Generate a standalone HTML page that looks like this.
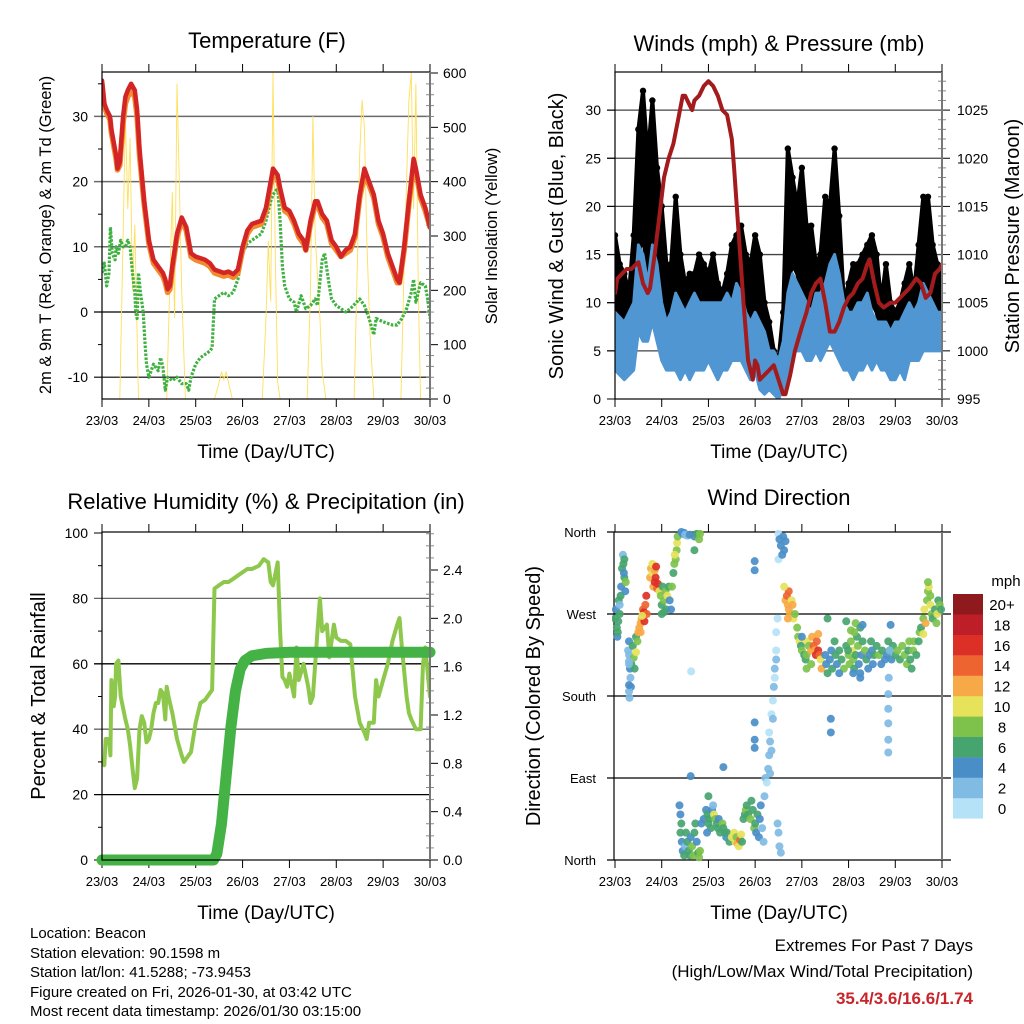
<!DOCTYPE html>
<html><head><meta charset="utf-8"><style>
html,body{margin:0;padding:0;background:#fff}
svg{display:block;font-family:"Liberation Sans",Arial,sans-serif}
</style></head><body>
<svg id="fig" width="1024" height="1024" viewBox="0 0 1024 1024" xmlns="http://www.w3.org/2000/svg">
<defs>
<clipPath id="c1"><rect x="102" y="72" width="328" height="327"/></clipPath>
<clipPath id="c2"><rect x="615" y="72" width="327" height="327"/></clipPath>
<clipPath id="c3"><rect x="102" y="532" width="328" height="328"/></clipPath>
<clipPath id="c4"><rect x="612" y="528" width="334" height="336"/></clipPath>
</defs>
<text x="267" y="48" font-size="22" text-anchor="middle">Temperature (F)</text>
<text x="779" y="51" font-size="22" text-anchor="middle">Winds (mph) &amp; Pressure (mb)</text>
<text x="266" y="509" font-size="22" text-anchor="middle">Relative Humidity (%) &amp; Precipitation (in)</text>
<text x="779" y="505" font-size="22" text-anchor="middle">Wind Direction</text>
<text transform="translate(51,235) rotate(-90)" font-size="16.5" text-anchor="middle">2m &amp; 9m T (Red, Orange) &amp; 2m Td (Green)</text>
<text transform="translate(497,236) rotate(-90)" font-size="16.5" text-anchor="middle">Solar Insolation (Yellow)</text>
<text transform="translate(563,236) rotate(-90)" font-size="20" text-anchor="middle">Sonic Wind &amp; Gust (Blue, Black)</text>
<text transform="translate(1019,236) rotate(-90)" font-size="20" text-anchor="middle">Station Pressure (Maroon)</text>
<text transform="translate(45,696) rotate(-90)" font-size="20" text-anchor="middle">Percent &amp; Total Rainfall</text>
<text transform="translate(540,696) rotate(-90)" font-size="20" text-anchor="middle">Direction (Colored By Speed)</text>
<text x="266" y="458" font-size="19" text-anchor="middle">Time (Day/UTC)</text>
<text x="779" y="458" font-size="19" text-anchor="middle">Time (Day/UTC)</text>
<text x="266" y="919" font-size="19" text-anchor="middle">Time (Day/UTC)</text>
<text x="779" y="919" font-size="19" text-anchor="middle">Time (Day/UTC)</text>
<g font-size="15">
<text x="30" y="938">Location: Beacon</text>
<text x="30" y="958">Station elevation: 90.1598 m</text>
<text x="30" y="977">Station lat/lon: 41.5288; -73.9453</text>
<text x="30" y="997">Figure created on Fri, 2026-01-30, at 03:42 UTC</text>
<text x="30" y="1016">Most recent data timestamp: 2026/01/30 03:15:00</text>
</g>
<g font-size="17" text-anchor="end">
<text x="973" y="951">Extremes For Past 7 Days</text>
<text x="973" y="977">(High/Low/Max Wind/Total Precipitation)</text>
<text x="973" y="1004" fill="#c8252b" font-weight="bold">35.4/3.6/16.6/1.74</text>
</g>
<g id="layer"></g>
</svg>
<script>
// ---------- data ----------
const dayLabels=["23/03","24/03","25/03","26/03","27/03","28/03","29/03","30/03"];
const tempT=[0,0.05,0.1,0.17,0.2,0.3,0.33,0.38,0.45,0.5,0.55,0.62,0.7,0.75,0.8,0.9,1.0,1.1,1.2,1.3,1.35,1.4,1.45,1.5,1.6,1.7,1.8,1.9,2.0,2.2,2.3,2.4,2.6,2.7,2.8,2.9,3.0,3.1,3.2,3.4,3.5,3.6,3.65,3.75,3.8,3.9,4.0,4.1,4.2,4.3,4.35,4.45,4.55,4.6,4.7,4.8,4.9,5.0,5.1,5.2,5.3,5.4,5.5,5.6,5.7,5.8,5.9,6.0,6.1,6.2,6.3,6.35,6.45,6.55,6.65,6.7,6.8,6.9,7.0];
const tempRed=[35.5,32,31,30,28,24,22,23,30,33,34,35,34,31,25,17,11,8,7,6,5,3.5,4,7,12,14.5,13,9,8.5,8,7.5,6.5,6,6.2,5.8,6.5,10,12.5,13.5,14,16,20,22,21,19,16,15.5,14,12,11,9.5,14,17,17,15,14,11,10,8.5,9.5,10,12,18,22,20,18,14,12,9,7,5,4.5,10,17,23.5,22,18,16,13];
const tempOrange=[35,31.5,30.5,29.5,27.5,23.5,21.8,22.5,29,32,33,34,33,30,24,16.5,10.5,7.5,6.5,5.5,4.5,3,3.5,6.5,11.5,14,12.5,8.5,8,7.5,7,6,5.5,5.7,5.3,6,9.5,12,13,13.5,15.5,19.5,21,20.5,18.5,15.5,15,13.5,11.5,10.5,9.5,13.5,16.5,16.5,14.5,13.5,10.5,9.5,8.5,9,9.5,11.5,17.5,21,19.5,17.5,13.5,11.5,8.5,6.5,4.5,4.5,9.5,16.5,22.5,21.5,17.5,15.5,13];
const dewT=[0,0.05,0.1,0.15,0.18,0.22,0.28,0.3,0.35,0.4,0.45,0.5,0.55,0.6,0.65,0.7,0.72,0.75,0.78,0.82,0.88,0.92,0.95,1.0,1.1,1.2,1.25,1.3,1.35,1.4,1.5,1.6,1.7,1.8,1.85,1.9,2.0,2.1,2.2,2.3,2.35,2.4,2.5,2.6,2.7,2.8,2.9,3.0,3.1,3.2,3.3,3.4,3.5,3.6,3.65,3.75,3.8,3.85,3.9,4.0,4.1,4.15,4.25,4.35,4.45,4.55,4.6,4.7,4.75,4.85,4.9,5.0,5.1,5.2,5.3,5.5,5.6,5.7,5.8,5.85,6.0,6.2,6.3,6.4,6.5,6.6,6.65,6.7,6.8,6.9,6.95,7.0];
const dewVal=[6,7.5,4,6,13,9,8,10,9,11,10,10,11,10,6,3,0,-1,6,3,0,-5,-8,-10,-8,-9,-7,-8.5,-12,-10,-10.5,-10,-11,-11,-12,-10,-8,-7,-6.5,-6,-5.5,2,2.5,3,2.5,3,5,9,10.5,11,11.5,12,14,17,18,19,14,7,4,2,1.5,0,2.5,0.5,1,2,1,8,9,4,2,1,0.5,0,0.5,2,1,-1,-3.5,-1,-1.5,-2,-2,-1,0.5,3,5,1.5,4.5,4,2,-1];
const solarT=[0,0.38,0.45,0.5,0.55,0.6,0.65,0.7,0.78,1.38,1.45,1.5,1.55,1.6,1.65,1.7,1.78,2.4,2.5,2.55,2.6,2.65,2.7,2.78,3.42,3.5,3.55,3.6,3.65,3.7,3.75,3.8,4.38,4.45,4.5,4.55,4.65,4.7,4.78,5.38,5.45,5.5,5.55,5.6,5.65,5.72,5.8,6.38,6.45,6.55,6.6,6.65,6.7,6.75,6.8,7.0];
const solarVal=[0,0,300,520,350,480,200,320,0,0,220,380,150,580,400,200,0,0,30,50,35,50,30,0,0,150,290,180,600,250,30,0,0,200,520,300,150,50,0,0,250,450,550,500,300,120,0,0,250,550,600,350,580,200,0,0];
const windT=[0,0.2,0.4,0.5,0.6,0.7,0.8,0.9,1.0,1.1,1.2,1.3,1.4,1.5,1.6,1.7,1.8,1.9,2.0,2.1,2.2,2.3,2.4,2.5,2.6,2.7,2.8,2.9,3.0,3.1,3.2,3.3,3.4,3.5,3.6,3.7,3.8,3.9,4.0,4.1,4.2,4.3,4.4,4.5,4.6,4.7,4.8,4.9,5.0,5.1,5.2,5.3,5.4,5.5,5.6,5.7,5.8,5.9,6.0,6.1,6.2,6.3,6.4,6.5,6.6,6.7,6.8,6.9,7.0];
const windHigh=[9,8,10,16,15,12,16,14,10,8,9,11,10,9,10,11,10,10,10,10,10,10,11,10,12,11,9,8,9,8,7,5,5,4,6,11,13,12,11,10,9,11,11,12,14,15,13,10,9,9,10,10,11,9,8,8,8,7,8,8,9,10,9,10,12,11,10,9,9];
const windLow=[3,2,3,7,6,6,8,6,4,3,3,3,2,3,2,3,3,3,4,3,2,3,3,4,4,4,3,2,3,1,0.5,1,0.5,0,1,3,5,5,5,4,4,5,4,5,6,5,4,3,3,2,3,3,4,3,4,3,3,2,2,3,2,4,4,4,5,5,5,5,5];
const gustT=[0,0.1,0.2,0.3,0.4,0.5,0.6,0.7,0.8,0.9,1.0,1.1,1.2,1.3,1.4,1.5,1.6,1.7,1.8,1.9,2.0,2.1,2.2,2.3,2.4,2.5,2.6,2.7,2.8,2.9,3.0,3.1,3.2,3.3,3.4,3.5,3.6,3.7,3.8,3.9,4.0,4.1,4.2,4.3,4.4,4.5,4.6,4.7,4.8,4.9,5.0,5.1,5.2,5.3,5.4,5.5,5.6,5.7,5.8,5.9,6.0,6.1,6.2,6.3,6.4,6.5,6.6,6.7,6.8,6.9,7.0];
const gustHigh=[17,14,13,11,17,28,32,25,31,24,20,14,14,21,15,12,13,13,15,14,13,15,12,11,13,16,17,18,15,14,17,15,10,8,5,4,9,26,23,20,24,18,18,14,15,21,20,26,19,10,12,14,14,15,16,17,15,10,14,10,9,10,12,14,11,16,21,21,16,14,13];
const gustLow=[7,6.5,6,7,9,15,17,13,16,12,9,8,8,9,8,8,8,8,7,7,7,8,8,8,9,9,10,10,8,7,7,6,4,3,3,2,4,12,14,13,11,10,9,9,10,11,13,14,12,8,8,8,9,10,10,10,9,7,6,5,6,7,7,8,8,9,11,10,8,7,8];
const presT=[0,0.05,0.15,0.25,0.35,0.45,0.5,0.6,0.7,0.75,0.85,0.95,1.05,1.15,1.25,1.35,1.45,1.5,1.6,1.65,1.7,1.8,1.9,2.0,2.1,2.2,2.3,2.4,2.5,2.55,2.65,2.75,2.85,2.95,3.0,3.05,3.1,3.2,3.3,3.4,3.5,3.6,3.65,3.75,3.85,4.0,4.1,4.2,4.3,4.4,4.5,4.6,4.7,4.8,4.9,5.0,5.1,5.2,5.3,5.4,5.45,5.55,5.65,5.75,5.9,6.0,6.1,6.2,6.3,6.45,6.55,6.65,6.75,6.85,6.95,7.0];
const presVal=[1006,1007.5,1008,1008.5,1008.5,1009,1009.2,1007,1006,1006.5,1010,1014,1018,1020,1021.5,1024,1026.5,1026.5,1025.5,1025,1026,1026.5,1027.5,1028,1027.5,1026.5,1025,1024.5,1022,1019,1012,1005,999,997,999,998.5,997,997.5,998,998.5,997,995.5,995.5,997.5,1000,1002.5,1004,1006,1007,1007.5,1005,1002,1002,1003,1004.5,1005.5,1006,1007,1007.5,1009,1009.5,1007,1005,1004.5,1005,1005,1005.5,1006,1006.5,1007.5,1007,1005.5,1006,1008,1008.5,1009];
const rhT=[0,0.05,0.08,0.15,0.18,0.2,0.25,0.28,0.3,0.35,0.4,0.5,0.55,0.6,0.65,0.7,0.75,0.8,0.85,0.9,0.95,1.0,1.05,1.1,1.15,1.2,1.25,1.3,1.35,1.38,1.42,1.5,1.6,1.7,1.75,1.8,1.9,2.0,2.1,2.2,2.3,2.35,2.4,2.5,2.6,2.7,2.8,3.0,3.1,3.2,3.35,3.45,3.55,3.6,3.65,3.75,3.8,3.85,3.9,3.95,4.0,4.1,4.15,4.2,4.3,4.4,4.45,4.5,4.6,4.65,4.7,4.8,4.85,4.95,5.0,5.1,5.2,5.3,5.4,5.5,5.6,5.65,5.7,5.8,5.85,5.9,6.0,6.1,6.2,6.3,6.35,6.4,6.5,6.55,6.6,6.7,6.8,6.85,6.9,7.0];
const rhVal=[30,29,37,37,32,55,47,50,60,61,50,43,40,35,28,22,25,40,44,42,36,37,40,45,48,48,52,51,43,53,50,45,37,32,30,31,33,42,48,49,51,52,83,84,85,85,86,88,89,89,90,92,91,85,84,91,70,56,55,53,57,50,65,55,60,53,48,50,70,80,70,72,62,72,68,67,67,66,50,42,39,37,42,42,55,50,55,60,67,72,74,65,50,45,43,40,40,60,65,50];
const rainT=[0,2.38,2.45,2.55,2.65,2.75,2.85,2.95,3.05,3.2,3.5,4.0,7.0];
const rainVal=[0,0,0.05,0.3,0.7,1.1,1.4,1.58,1.65,1.69,1.71,1.72,1.72];
const dirT=[0,0.02,0.04,0.05,0.07,0.08,0.1,0.12,0.13,0.15,0.17,0.18,0.2,0.22,0.23,0.06,0.1,0.2,0.19,0.28,0.3,0.3,0.32,0.33,0.34,0.3,0.31,0.35,0.38,0.4,0.42,0.45,0.45,0.48,0.3,0.3,0.3,0.5,0.52,0.55,0.57,0.6,0.62,0.65,0.67,0.68,0.63,0.58,0.55,0.75,0.77,0.8,0.82,0.85,0.87,0.9,0.92,0.95,0.8,0.85,0.88,0.98,1.0,1.02,1.05,1.08,1.1,1.12,1.15,1.17,1.2,1.22,1.25,1.27,1.3,1.32,1.33,1.34,1.28,1.0,1.05,1.42,1.45,1.48,1.5,1.55,1.6,1.7,1.75,1.8,1.82,1.7,1.38,1.4,1.42,1.4,1.43,1.45,1.48,1.5,1.52,1.55,1.58,1.6,1.62,1.65,1.68,1.7,1.72,1.75,1.78,1.8,1.82,1.85,1.9,1.95,1.98,2.0,2.02,2.05,2.08,2.1,2.12,2.15,2.18,2.2,2.22,2.25,2.3,2.32,2.35,2.38,2.4,2.45,2.5,2.55,2.58,2.6,2.62,2.65,2.68,2.7,2.72,2.75,2.78,2.8,2.82,2.85,2.9,2.92,2.95,2.98,3.0,3.02,3.05,3.08,3.1,3.12,3.15,3.18,2.0,1.97,1.63,1.62,2.32,2.99,2.99,2.99,2.99,2.99,3.2,3.22,3.25,3.28,3.3,3.32,3.35,3.38,3.4,3.42,3.45,3.45,3.48,3.5,3.5,3.52,3.55,3.58,3.6,3.62,3.65,3.38,3.35,3.32,3.3,3.42,3.5,3.52,3.55,3.48,3.45,3.65,3.68,3.7,3.72,3.75,3.78,3.72,3.62,3.8,3.82,3.85,3.7,3.9,3.92,3.95,3.98,4.0,4.05,4.08,4.1,4.12,4.15,4.2,4.22,4.25,4.28,4.3,4.32,4.35,4.38,4.4,4.42,4.2,4.1,4.0,4.35,4.5,4.52,4.55,4.6,4.63,4.65,4.7,4.72,4.75,4.8,4.85,4.9,4.95,5.0,5.02,5.05,5.08,5.1,5.12,5.15,5.18,5.2,5.22,5.25,5.28,5.3,5.35,5.38,5.42,5.45,5.48,5.5,5.52,5.55,5.6,5.65,5.7,5.72,5.78,5.82,5.85,5.88,5.92,5.95,6.0,6.05,6.1,6.15,6.2,6.25,6.28,6.3,6.32,6.35,6.38,6.4,5.15,5.25,5.12,4.55,4.95,5.05,5.3,4.8,5.25,4.62,4.62,5.85,5.85,5.85,5.85,5.85,5.86,5.88,5.9,4.99,5.1,6.45,6.5,6.52,6.55,6.6,6.62,6.65,6.68,6.7,6.72,6.75,6.78,6.8,6.85,6.88,6.9,6.92,6.95,6.98,6.7,6.6,6.75];
const dirDeg=[265,275,255,245,262,285,270,290,300,320,335,325,310,295,305,250,280,330,315,230,240,225,210,200,190,185,178,215,235,222,210,228,245,240,192,215,218,250,255,260,265,275,272,280,290,270,262,268,250,310,320,315,300,305,310,298,303,295,325,318,322,290,280,300,285,295,275,290,300,285,275,300,315,325,330,340,348,355,335,270,272,360,358,359,357,356,357,355,358,352,358,340,60,50,40,30,20,10,5,15,30,20,10,5,25,15,5,30,40,20,8,3,10,40,45,55,50,40,45,35,55,60,50,45,40,35,45,30,40,35,30,25,30,20,25,30,20,25,18,15,22,28,20,45,50,55,60,50,45,65,55,35,40,30,50,25,45,60,35,20,70,30,207,92,102,328,318,151,132,123,70,90,85,100,115,130,160,175,190,210,230,250,265,330,358,352,345,335,355,340,350,155,120,95,140,200,30,15,8,40,220,285,290,280,275,270,285,295,300,280,265,270,265,255,245,240,235,230,225,220,225,240,235,230,245,235,230,225,240,230,225,220,210,215,210,245,248,225,215,205,220,230,210,240,225,215,230,220,210,235,225,215,240,230,220,210,225,245,235,215,205,225,240,230,220,210,225,240,230,215,225,235,225,215,230,220,225,240,230,220,235,225,230,220,235,225,215,230,240,220,210,230,240,260,255,250,265,262,252,258,205,200,155,140,182,166,150,132,118,200,230,258,230,205,225,240,250,255,265,275,260,285,295,300,280,270,265,275,260,270,285,280,275,305,248,290];
const dirSpd=[6,4,6,4,6,7,6,7,5,7,3,6,7,4,8,6,3,6,5,3,4,3,4,3,4,2,3,6,7,8,7,10,6,8,4,2,2,12,12,13,12,15,16,15,16,14,17,11,12,12,12,11,13,16,17,15,17,10,10,13,16,8,7,6,8,8,7,10,6,4,4,8,6,8,9,8,10,8,10,6,6,4,4,4,3,3,4,4,7,8,8,6,4,4,6,6,4,4,6,2,6,6,6,6,4,8,8,6,6,4,6,8,8,4,4,4,6,6,6,6,4,2,10,8,6,6,4,6,8,6,6,4,6,6,10,10,10,8,12,10,14,10,6,6,6,8,6,6,8,6,6,8,6,4,6,4,4,4,2,2,6,4,0,4,4,4,4,4,4,4,2,2,1,2,2,2,1,1,2,2,1,1,0,1,1,4,4,4,4,4,4,2,2,2,1,1,2,2,2,2,2,12,14,12,12,12,10,14,10,12,10,8,13,8,8,10,6,8,6,6,8,10,8,12,12,14,12,16,14,16,14,10,12,8,8,4,12,4,4,6,4,4,6,6,6,4,6,6,8,6,8,8,8,10,8,6,6,6,8,4,4,4,6,8,6,4,4,6,4,4,6,6,8,4,6,4,4,6,6,4,6,6,8,6,8,8,8,6,8,6,6,8,8,8,6,8,6,6,8,4,4,4,4,4,2,2,2,2,2,2,2,4,6,4,6,6,8,6,8,10,12,8,8,10,10,8,6,6,8,10,6,8,6,8,10,8];
const speedLabels=["0","2","4","6","8","10","12","14","16","18","20+"];
const speedColors=["#b5e2f7","#80bbe4","#4a8ec7","#46a56f","#7ec24b","#e6e25a","#f7a947","#ee6430","#dc3027","#bd1e27","#8f1a1d"];
// ---------- helpers ----------
const NS="http://www.w3.org/2000/svg";
const layer=document.getElementById('layer');
function mk(tag,attrs,parent){const e=document.createElementNS(NS,tag);for(const k in attrs)e.setAttribute(k,attrs[k]);(parent||layer).appendChild(e);return e;}
function grp(name,clip){const g=mk('g',clip?{'clip-path':'url(#'+clip+')'}:{});


return g;}
const PW=328;
const xL=t=>102+t*PW/7, xR=t=>615+t*327/7;
const yT=v=>312-v*6.52, yS=v=>399-v*326/600;
const yW=v=>399-v*9.63, yP=p=>399-(p-995)*9.63;
const yH=v=>860-v*3.27, yR=v=>860-v*290/2.4;
const yD=d=>860-d*328/360;
function pts(ts,vs,xf,yf){return ts.map((t,i)=>xf(t).toFixed(1)+','+yf(vs[i]).toFixed(1)).join(' ');}
function line(g,ts,vs,xf,yf,col,w,extra){const p=mk('polyline',Object.assign({points:pts(ts,vs,xf,yf),fill:'none',stroke:col,'stroke-width':w,'stroke-linejoin':'round','stroke-linecap':'round'},extra||{}),g);return p;}
function hline(g,x0,x1,y,col,w){mk('line',{x1:x0,x2:x1,y1:y,y2:y,stroke:col,'stroke-width':w||1},g);}
function vline(g,x,y0,y1,col,w){mk('line',{x1:x,x2:x,y1:y0,y2:y1,stroke:col||'#000','stroke-width':w||1},g);}
function txt(g,x,y,s,anchor,size){const t=mk('text',{x:x,y:y,'font-size':size||13,'text-anchor':anchor||'middle'},g);t.textContent=s;return t;}
function xAxis(name,x0,xf,top,bot){const g=grp(name);
for(let d=0;d<=7;d++){const x=xf(d);vline(g,x,top-8,top);vline(g,x,bot,bot+8);txt(g,x,bot+26,dayLabels[d],'middle',13);}
return g;}
function frame(name,x0,y0,x1,y1,rightGray){const g=grp(name);
mk('rect',{x:x0,y:y0,width:x1-x0,height:y1-y0,fill:'none',stroke:'#000','stroke-width':1.2},g);
if(rightGray)vline(g,x1,y0,y1,'#777',2);}
// ---------- panel 1: temperature ----------
(function(){
const gg=grp('temperature-gridlines');
[-10,0,10,20,30].forEach(v=>hline(gg,94,430,yT(v),v>0?'#6a6a6a':'#000',v>0?1.5:1.2));
const ax=grp('temperature-left-axis');
[-10,0,10,20,30].forEach(v=>{txt(ax,88,yT(v)+5,String(v),'end',14);});
[-5,5,15,25,35].forEach(v=>hline(ax,98,102,yT(v),'#000',1));
const ar=grp('solar-right-axis');
for(let v=0;v<=600;v+=100){hline(ar,430,438,yS(v),'#000',1);txt(ar,443,yS(v)+5,String(v),'start',14);}
for(let v=20;v<=600;v+=20){if(v%100)hline(ar,426,434,yS(v),'#888',1);}
xAxis('temperature-x-axis',102,xL,72,399);
const gs=grp('solar-series','c1');
line(gs,solarT,solarVal,xL,yS,'#ffdf5a',0.9);
const gd=grp('dewpoint-series','c1');
line(gd,dewT,dewVal,xL,yT,'#3fb142',3.2,{'stroke-dasharray':'2.5 1.5','stroke-linecap':'butt'});
const go=grp('temperature-9m-series','c1');
line(go,tempT,tempOrange,xL,yT,'#f28a2e',5.5);
const gr=grp('temperature-2m-series','c1');
line(gr,tempT,tempRed,xL,yT,'#d42526',4.5);
frame('temperature-plot-frame',102,72,430,399,true);
})();
// ---------- panel 2: winds ----------
(function(){
const gg=grp('winds-gridlines');
[5,10,15,20,25,30].forEach(v=>hline(gg,607,942,yW(v),'#444',1.3));
const ax=grp('wind-left-axis');
[0,5,10,15,20,25,30].forEach(v=>{hline(ax,607,615,yW(v),'#000',1);txt(ax,601,yW(v)+5,String(v),'end',14);});
const ar=grp('pressure-right-axis');
for(let p=995;p<=1025;p+=5){hline(ar,942,950,yP(p),'#000',1);txt(ar,957,yP(p)+5,String(p),'start',14);}
for(let p=996;p<=1028;p++){if(p%5)hline(ar,938,946,yP(p),'#888',1);}
xAxis('winds-x-axis',615,xR,72,399);
const gk=grp('gust-series','c2');
const poly=gustT.map((t,i)=>xR(t).toFixed(1)+','+yW(gustHigh[i]).toFixed(1)).concat(gustT.slice().reverse().map((t,j)=>{const i=gustT.length-1-j;return xR(t).toFixed(1)+','+yW(gustLow[i]).toFixed(1);})).join(' ');
mk('polygon',{points:poly,fill:'#000',stroke:'#000','stroke-width':4,'stroke-linejoin':'round'},gk);
gustT.forEach((t,i)=>{const c=mk('circle',{cx:xR(t),cy:yW(gustHigh[i]),r:3.2,fill:'#000'},gk);


const c2=mk('circle',{cx:xR(t)+2,cy:yW(gustLow[i]),r:3,fill:'#000'},gk);

});
const gb=grp('wind-series','c2');
const bpoly=windT.map((t,i)=>xR(t).toFixed(1)+','+yW(windHigh[i]).toFixed(1)).concat(windT.slice().reverse().map((t,j)=>{const i=windT.length-1-j;return xR(t).toFixed(1)+','+yW(windLow[i]).toFixed(1);})).join(' ');
mk('polygon',{points:bpoly,fill:'#4f96d2',stroke:'#4f96d2','stroke-width':3,'stroke-linejoin':'round'},gb);
const gp=grp('pressure-series','c2');
line(gp,presT,presVal,xR,yP,'#a31b1d',4);
frame('winds-plot-frame',615,72,942,399,true);
})();
// ---------- panel 3: humidity ----------
(function(){
const gg=grp('humidity-gridlines');
[20,40,60,80].forEach(v=>hline(gg,94,430,yH(v),v%40==0?'#666':'#000',1.3));
hline(gg,94,102,yH(0),'#000',1);hline(gg,94,102,yH(100),'#000',1);
const ax=grp('humidity-left-axis');
[0,20,40,60,80,100].forEach(v=>txt(ax,88,yH(v)+5,String(v),'end',14));
[10,30,50,70,90].forEach(v=>hline(ax,98,102,yH(v),'#000',1));
const ar=grp('rainfall-right-axis');
[0,0.4,0.8,1.2,1.6,2.0,2.4].forEach(v=>{hline(ar,430,438,yR(v),'#000',1);txt(ar,443,yR(v)+5,v.toFixed(1),'start',14);});
for(let k=1;k<=27;k++){if(k%4)hline(ar,426,434,yR(k/10),'#888',1);}
xAxis('humidity-x-axis',102,xL,532,860);
const gh=grp('humidity-series','c3');
line(gh,rhT,rhVal,xL,yH,'#8dc84c',4);
const gr=grp('rainfall-series');
line(gr,rainT,rainVal,xL,yR,'#45b246',11);
frame('humidity-plot-frame',102,532,430,860,true);
})();
// ---------- panel 4: wind direction ----------
(function(){
const gg=grp('direction-gridlines');
const dirNames=["North","East","South","West","North"];
[0,90,180,270,360].forEach((d,i)=>{hline(gg,607,951,yD(d),'#000',1.2);txt(gg,596,yD(d)+5,dirNames[i],'end',13);});
xAxis('direction-x-axis',615,xR,532,860);
vline(gg,614,532,860,'#000',1.2);vline(gg,942,532,860,'#777',2);
const gp=grp('direction-points','c4');
dirT.forEach((t,i)=>{const ci=Math.min(10,Math.floor(dirSpd[i]/2));
const c=mk('circle',{cx:xR(t),cy:yD(dirDeg[i]),r:4,fill:speedColors[ci],'fill-opacity':0.92},gp);

});
const cb=grp('speed-colorbar');
txt(cb,1006,586,'mph','middle',15);
speedLabels.forEach((s,i)=>{const y=798-i*20.4;
const r=mk('rect',{x:953,y:y,width:30,height:20.6,fill:speedColors[i]},cb);


txt(cb,1002,y+16,s,'middle',15);});
})();
</script>
</body></html>
